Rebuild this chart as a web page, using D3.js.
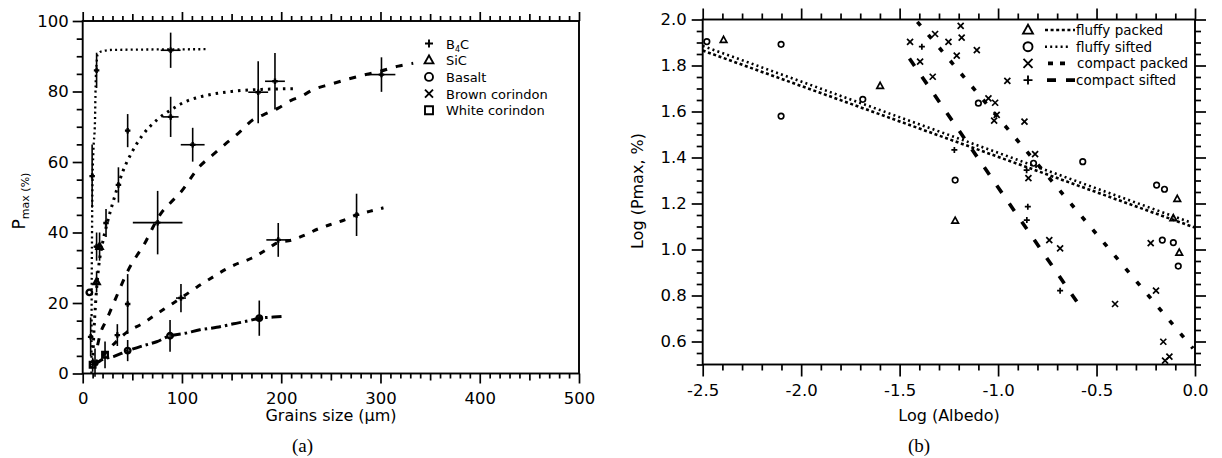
<!DOCTYPE html>
<html><head><meta charset="utf-8">
<script src="https://cdn.jsdelivr.net/npm/d3@7"></script>
<style>body{margin:0;background:#fff}svg{display:block}</style>
</head><body><svg id="c" width="1222" height="458"></svg>
<script>
// ---------------- Panel (a) data ----------------
const aLegendNames = ["B4C", "SiC", "Basalt", "Brown corindon", "White corindon"];
const aLegendSyms = ["plus", "tri", "circ", "cross", "sq"];
const aXTicks = [0, 100, 200, 300, 400, 500];
const aYTicks = [0, 20, 40, 60, 80, 100];
const aPtX    = [88.6, 14, 9.5, 8, 14, 17, 14, 6.7, 23.5, 36, 45.3, 88.6, 110.8, 176.8, 193.7, 301, 75.5, 197, 99, 45.3, 34.9, 45.3, 88, 177.9, 275.9, 22.5, 12.4, 10];
const aPtY    = [91.7, 86, 56, 10.4, 36, 36, 26, 23, 42.7, 53.5, 68.9, 72.8, 64.9, 79.8, 82.9, 84.8, 42.8, 37.9, 21.4, 19.7, 10.9, 6.5, 10.7, 15.7, 45, 5.3, 3.1, 2.5];
const aPtXErr = [10, 0, 0, 0, 3, 3, 0, 0, 0, 0, 2, 8, 12, 10, 10, 14, 25, 12, 5, 0, 2, 0, 0, 0, 0, 0, 4, 3];
const aPtYErr = [5, 5, 9, 5.5, 4, 4, 3, 0, 4, 5, 4.7, 5.7, 4.8, 8.8, 8, 4.9, 9, 4.8, 4, 8.5, 3.1, 3, 4.5, 5, 6, 3.8, 4, 2];
const aPtSym  = ["plus","plus","plus","plus","plus","tri","tri","circ","plus","plus","plus","plus","plus","plus","plus","plus","plus","plus","plus","plus","plus","circ","circ","circ","plus","sq","cross","sq"];
const aCurveFine   = [[8.8,0],[9,20],[9.4,40],[9.8,53],[10.7,62.6],[12.4,72],[13,81.5],[14,88],[15,90.5],[19,91.4],[30,91.8],[126,92]];
const aCurveDotted = [[10,3],[11,10],[13,20],[16,30],[20,37],[25,43],[32,50],[40,57],[50,63],[60,67.5],[75,72],[90,75],[105,77.3],[120,78.6],[150,80],[180,80.6],[214,80.8]];
const aCurveShort  = [[15,8],[17.4,10.9],[24,15.2],[34,21.8],[46,29.4],[54,33.2],[62.7,37],[69.5,40.8],[77.8,45],[88,48.3],[98,51.2],[118,58.8],[131,62],[145,65.4],[157,68.2],[171.5,72],[182,73.4],[197,75.3],[210,77.5],[220,78.6],[232,80.5],[249,82],[266,83.4],[279,84.4],[299,85.7],[318,87.2],[333,88]];
const aCurveDash   = [[20,5],[30,8],[44,11.6],[61,14.3],[73,16.6],[86,19],[99,21.4],[115,24.5],[128,26.8],[140,28.9],[153,30.8],[170,32.7],[185,35.1],[197,37.2],[210,37.8],[224,39.3],[237,41],[249,42.2],[264,43.6],[276,45],[289,46],[303,47]];
const aCurveLong   = [[12,2.5],[20,4],[31,4.8],[46,6.5],[61,7.9],[74.5,9],[88,10.7],[103,11.4],[118,12.4],[135,13.1],[152,14.1],[168,15],[178,15.7],[192,16],[202,16.2]];

// ---------------- Panel (b) data ----------------
const bLegendNames = ["fluffy packed", "fluffy sifted", "compact packed", "compact sifted"];
const bLegendSyms = ["tri", "circ", "cross", "plus"];
const bXTicks = [-2.5, -2.0, -1.5, -1.0, -0.5, 0.0];
const bYTicks = [0.6, 0.8, 1.0, 1.2, 1.4, 1.6, 1.8, 2.0];
const bFluffyPackedX = [-2.394, -1.599, -1.218, -0.09, -0.11, -0.08];
const bFluffyPackedY = [1.911, 1.711, 1.125, 1.22, 1.136, 0.986];
const bFluffySiftedX = [-2.479, -2.102, -2.102, -1.687, -1.218, -1.10, -0.82, -0.57, -0.195, -0.155, -0.166, -0.11, -0.085];
const bFluffySiftedY = [1.904, 1.892, 1.58, 1.653, 1.302, 1.636, 1.375, 1.382, 1.28, 1.262, 1.041, 1.03, 0.928];
const bCompactPackedX = [-1.19, -1.185, -1.32, -1.447, -1.252, -1.108, -1.21, -1.396, -1.332, -0.953, -1.049, -1.015, -1.007, -1.02, -0.866, -0.812, -0.846, -0.74, -0.685, -0.406, -0.225, -0.198, -0.161, -0.13, -0.152];
const bCompactPackedY = [1.972, 1.921, 1.937, 1.903, 1.903, 1.867, 1.843, 1.817, 1.751, 1.733, 1.657, 1.638, 1.585, 1.56, 1.556, 1.415, 1.31, 1.041, 1.005, 0.763, 1.028, 0.821, 0.599, 0.534, 0.517];
const bCompactSiftedX = [-1.387, -1.222, -0.855, -0.849, -0.854, -0.685];
const bCompactSiftedY = [1.882, 1.433, 1.345, 1.186, 1.128, 0.821];
const bLineFluffyPacked  = [[-2.5, 1.865], [0.0, 1.095]];
const bLineFluffySifted  = [[-2.5, 1.885], [-0.03, 1.12]];
const bLineCompactPacked = [[-1.41, 1.99], [-0.01, 0.57]];
const bLineCompactSifted = [[-1.45, 1.83], [-0.6, 0.773]];

// ---------------- drawing ----------------
const svg = d3.select("#c");
const SANS = "'DejaVu Sans', Arial, sans-serif";
const SERIF = "'Liberation Serif', 'Times New Roman', serif";

function symPath(type, s) {
  const a = s / 2;
  switch (type) {
    case "tri": return `M0,${-s*0.6}L${s*0.55},${s*0.4}L${-s*0.55},${s*0.4}Z`;
    case "cross": return `M${-a},${-a}L${a},${a}M${-a},${a}L${a},${-a}`;
    case "plus": return `M${-a},0H${a}M0,${-a}V${a}`;
    case "sq": return `M${-a},${-a}H${a}V${a}H${-a}Z`;
    case "circ": return d3.arc()({innerRadius:0, outerRadius:a, startAngle:0, endAngle:2*Math.PI});
  }
}
function drawSym(g, type, x, y, s, sw) {
  g.append("path").attr("transform", `translate(${x},${y})`)
    .attr("d", symPath(type, s)).attr("fill", "none").attr("stroke", "#000").attr("stroke-width", sw);
}
function styleAxis(g, fs) {
  g.select(".domain").remove();
  g.selectAll("line").attr("stroke", "#000").attr("stroke-width", 1.7);
  g.selectAll("text").attr("font-family", SANS).attr("font-size", fs).attr("fill", "#000");
}

// ===== Panel A =====
const ax = d3.scaleLinear().domain([0, 500]).range([82.7, 579]);
const ay = d3.scaleLinear().domain([0, 100]).range([373.5, 21]);
const A = svg.append("g");

const aMinX = d3.range(0, 501, 10).filter(v => v % 50 !== 0);
const aMidX = d3.range(50, 501, 100);
A.append("g").attr("transform", `translate(0,${ay(0)})`).call(d3.axisBottom(ax).tickValues(aXTicks).tickSize(10).tickPadding(9).tickFormat(d3.format("d"))).call(g => styleAxis(g, 16.5));
A.append("g").attr("transform", `translate(0,${ay(0)})`).call(d3.axisBottom(ax).tickValues(aMidX).tickSize(7).tickFormat("")).call(g => styleAxis(g, 16));
A.append("g").attr("transform", `translate(0,${ay(0)})`).call(d3.axisBottom(ax).tickValues(aMinX).tickSize(5).tickFormat("")).call(g => styleAxis(g, 16));
A.append("g").attr("transform", `translate(0,${ay(100)})`).call(d3.axisTop(ax).tickValues(aXTicks).tickSize(9).tickFormat("")).call(g => styleAxis(g, 16));
A.append("g").attr("transform", `translate(0,${ay(100)})`).call(d3.axisTop(ax).tickValues(aMidX).tickSize(7).tickFormat("")).call(g => styleAxis(g, 16));
A.append("g").attr("transform", `translate(0,${ay(100)})`).call(d3.axisTop(ax).tickValues(aMinX).tickSize(5).tickFormat("")).call(g => styleAxis(g, 16));
A.append("g").attr("transform", `translate(${ax(0)},0)`).call(d3.axisLeft(ay).tickValues(aYTicks).tickSize(10).tickPadding(4).tickFormat(d3.format("d"))).call(g => styleAxis(g, 16.5));
A.append("g").attr("transform", `translate(${ax(0)},0)`).call(d3.axisLeft(ay).tickValues(d3.range(0, 101, 5).filter(v => v % 20 !== 0)).tickSize(6).tickFormat("")).call(g => styleAxis(g, 16));
A.append("rect").attr("x", ax(0)).attr("y", ay(100)).attr("width", ax(500) - ax(0)).attr("height", ay(0) - ay(100))
  .attr("fill", "none").attr("stroke", "#000").attr("stroke-width", 1.9);

const aLine = d3.line().x(d => ax(d[0])).y(d => ay(d[1])).curve(d3.curveMonotoneX);
const aCurves = [
  [aCurveFine, "2,3.2", 2.3],
  [aCurveDotted, "2.5,5", 3],
  [aCurveShort, "7,9", 3],
  [aCurveDash, "6,8.5", 3],
  [aCurveLong, "10,4,2.5,4", 3]
];
aCurves.forEach(([pts, dash, w]) => {
  A.append("path").attr("d", aLine(pts)).attr("fill", "none").attr("stroke", "#000")
    .attr("stroke-width", w).attr("stroke-dasharray", dash);
});

aPtX.forEach((x, i) => {
  const y = aPtY[i], ex = aPtXErr[i], ey = aPtYErr[i];
  if (ey > 0) A.append("line").attr("x1", ax(x)).attr("x2", ax(x)).attr("y1", ay(y - ey)).attr("y2", ay(y + ey)).attr("stroke", "#000").attr("stroke-width", 1.6);
  if (ex > 0) A.append("line").attr("x1", ax(x - ex)).attr("x2", ax(x + ex)).attr("y1", ay(y)).attr("y2", ay(y)).attr("stroke", "#000").attr("stroke-width", 1.6);
  drawSym(A, aPtSym[i], ax(x), ay(y), 5.5, 2.4);
});

aLegendNames.forEach((name, i) => {
  const y = 43.5 + i * 16.7;
  drawSym(A, aLegendSyms[i], 429, y, 8, 1.9);
  const t = A.append("text").attr("x", 446).attr("y", y + 5).attr("font-family", SANS).attr("font-size", 13).attr("fill", "#000");
  if (i === 0) {
    t.append("tspan").text("B");
    t.append("tspan").attr("font-size", 8).attr("dy", 3).text("4");
    t.append("tspan").attr("dy", -3).text("C");
  } else t.text(name);
});

const aYT = A.append("text").attr("transform", "translate(25,201) rotate(-90)").attr("text-anchor", "middle")
  .attr("font-family", SANS).attr("fill", "#000");
aYT.append("tspan").attr("font-size", 17).text("P");
aYT.append("tspan").attr("font-size", 11).attr("dy", 4).text("max");
aYT.append("tspan").attr("font-size", 11).text(" (%)");
A.append("text").attr("x", 331).attr("y", 421).attr("text-anchor", "middle").attr("font-family", SANS)
  .attr("font-size", 16).attr("fill", "#000").text("Grains size (\u00b5m)");
A.append("text").attr("x", 302.5).attr("y", 452).attr("text-anchor", "middle").attr("font-family", SERIF)
  .attr("font-size", 19).attr("fill", "#000").text("(a)");

// ===== Panel B =====
const bx = d3.scaleLinear().domain([-2.5, 0]).range([702.7, 1195]);
const by = d3.scaleLinear().domain([0.5, 2.0]).range([364.5, 19.5]);
const B = svg.append("g");
const f1 = d => d.toFixed(1);
const bMinX = d3.range(-25, 1, 1).filter(v => v % 5 !== 0).map(v => v / 10);
const bMinY = d3.range(10, 41, 1).filter(v => v % 4 !== 0).map(v => v / 20);

B.append("g").attr("transform", `translate(0,${by(0.5)})`).call(d3.axisBottom(bx).tickValues(bXTicks).tickSize(12).tickPadding(8).tickFormat(f1)).call(g => styleAxis(g, 16.5));
B.append("g").attr("transform", `translate(0,${by(0.5)})`).call(d3.axisBottom(bx).tickValues(bMinX).tickSize(6).tickFormat("")).call(g => styleAxis(g, 16));
B.append("g").attr("transform", `translate(0,${by(2.0)})`).call(d3.axisTop(bx).tickValues(bXTicks).tickSize(11).tickFormat("")).call(g => styleAxis(g, 16));
B.append("g").attr("transform", `translate(0,${by(2.0)})`).call(d3.axisTop(bx).tickValues(bMinX).tickSize(6).tickFormat("")).call(g => styleAxis(g, 16));
B.append("g").attr("transform", `translate(${bx(-2.5)},0)`).call(d3.axisLeft(by).tickValues(bYTicks).tickSize(11).tickPadding(5).tickFormat(f1)).call(g => styleAxis(g, 16.5));
B.append("g").attr("transform", `translate(${bx(-2.5)},0)`).call(d3.axisLeft(by).tickValues(bMinY).tickSize(6).tickFormat("")).call(g => styleAxis(g, 16));
B.append("g").attr("transform", `translate(${bx(0)},0)`).call(d3.axisRight(by).tickValues(bYTicks).tickSize(11).tickFormat("")).call(g => styleAxis(g, 16));
B.append("g").attr("transform", `translate(${bx(0)},0)`).call(d3.axisRight(by).tickValues(bMinY).tickSize(6).tickFormat("")).call(g => styleAxis(g, 16));
B.append("rect").attr("x", bx(-2.5)).attr("y", by(2.0)).attr("width", bx(0) - bx(-2.5)).attr("height", by(0.5) - by(2.0))
  .attr("fill", "none").attr("stroke", "#000").attr("stroke-width", 1.9);

const bLine = d3.line().x(d => bx(d[0])).y(d => by(d[1]));
const bStyles = [["3,2.6", 2.6], ["2,3.2", 2.6], ["5,12", 3.6], ["9,13", 3.6]];
const bLegDash = ["3,2.6", "2,3.2", "5,7", "9,10"];
[bLineFluffyPacked, bLineFluffySifted, bLineCompactPacked, bLineCompactSifted].forEach((pts, i) => {
  B.append("path").attr("d", bLine(pts)).attr("fill", "none").attr("stroke", "#000")
    .attr("stroke-width", bStyles[i][1]).attr("stroke-dasharray", bStyles[i][0]);
});

const bSeries = [
  [bFluffyPackedX, bFluffyPackedY, "tri"],
  [bFluffySiftedX, bFluffySiftedY, "circ"],
  [bCompactPackedX, bCompactPackedY, "cross"],
  [bCompactSiftedX, bCompactSiftedY, "plus"]
];
bSeries.forEach(([xs, ys, s]) => {
  xs.forEach((x, i) => drawSym(B, s, bx(x), by(ys[i]), s === "circ" ? 5.5 : 6, 1.7));
});

const bLegSeg = [[1045, 1075], [1045, 1071], [1048, 1065], [1047, 1075]];
bLegendNames.forEach((name, i) => {
  const y = 30 + i * 16.7;
  drawSym(B, bLegendSyms[i], 1028, y, 9, 1.9);
  B.append("line").attr("x1", bLegSeg[i][0]).attr("x2", bLegSeg[i][1]).attr("y1", y).attr("y2", y)
    .attr("stroke", "#000").attr("stroke-width", bStyles[i][1]).attr("stroke-dasharray", bLegDash[i]);
  B.append("text").attr("x", i === 2 ? 1077 : 1076).attr("y", y + 5).attr("font-family", SANS)
    .attr("font-size", 13.5).attr("fill", "#000").text(name);
});

B.append("text").attr("transform", "translate(643,191) rotate(-90)").attr("text-anchor", "middle")
  .attr("font-family", SANS).attr("font-size", 16).attr("fill", "#000").text("Log (Pmax, %)");
B.append("text").attr("x", 949).attr("y", 421).attr("text-anchor", "middle").attr("font-family", SANS)
  .attr("font-size", 16).attr("fill", "#000").text("Log (Albedo)");
B.append("text").attr("x", 919).attr("y", 452).attr("text-anchor", "middle").attr("font-family", SERIF)
  .attr("font-size", 19).attr("fill", "#000").text("(b)");
</script></body></html>
